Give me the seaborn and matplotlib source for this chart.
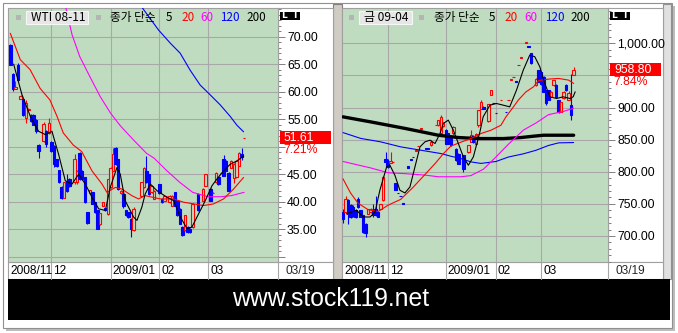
import numpy as np
import pandas as pd
import matplotlib
matplotlib.use("Agg")
import matplotlib.pyplot as plt
import seaborn as sns
from matplotlib.patches import Rectangle
from matplotlib.ticker import MultipleLocator, FixedLocator
from matplotlib.transforms import blended_transform_factory as blend

# ---------------- data ----------------
wti_title = "WTI 08-11"
gold_title = "금 09-04"
month_labels = ["2008/11", "12", "2009/01", "02", "03"]
last_date = "03/19"
wti_month_idx = [0, 16, 39, 58, 77]
gold_month_idx = [0, 18, 41, 61, 79]

wti_open = [68.5, 63.2, 60.4, 64.9, 58.7, 58.6, 55.2, 56.6, 55.8, 55.8,
            54.9, 50.3, None, 51.0, 52.8, 52.5, 50.8, 50.1, 47.7, 45.7,
            42.6, 40.7, 43.5, 44.1, None, 43.5, 43.5, 48.9, 45.6, 44.4,
            38.1, 41.5, 41.7, 39.9, 38.4, 35.9, 39.3, 38.8, 37.8, 42.6,
            45.6, 49.7, 47.7, 41.5, 41.4, 38.4, 38.1, 36.9, 34.8, None,
            None, 41.1, 42.6, 45.6, 45.0, 41.7, 40.5, None, 43.2, 40.5,
            40.2, 40.9, 39.9, 39.3, 41.7, 40.2, 38.7, 35.4, 34.8, 35.4,
            35.1, 35.4, None, 41.4, None, 40.2, 42.9, None, 42.3, 41.5,
            43.5, 44.4, 45.3, 47.7, 47.4, 45.3, 46.2, 44.3, 44.4, 46.5,
            48.6, 51.61]
wti_high = [68.6, 63.3, 61.9, 65.2, 59.3, 58.6, 58.5, 57.0, 56.0, 55.9,
            55.0, 50.4, None, 54.5, 53.0, 55.2, 51.0, 50.3, 47.8, 45.8,
            42.8, 43.6, 45.0, 44.3, None, 48.6, 45.8, 49.0, 45.7, 44.5,
            38.2, 42.2, 41.8, 40.0, 38.5, 38.0, 40.0, 38.9, 44.2, 46.3,
            49.8, 50.0, 47.8, 42.1, 41.5, 38.5, 38.2, 37.0, 39.0, None,
            None, 43.6, 46.3, 48.3, 45.1, 43.0, 42.1, None, 43.3, 40.6,
            41.2, 41.0, 41.2, 41.2, 41.8, 40.3, 38.8, 35.5, 37.6, 35.5,
            35.2, 39.7, None, 41.5, None, 42.4, 45.1, None, 42.4, 41.7,
            45.4, 44.5, 45.3, 48.5, 47.5, 45.4, 47.5, 47.0, 47.5, 49.0,
            49.8, 51.61]
wti_low = [64.9, 60.2, 60.4, 61.9, 58.7, 55.6, 54.3, 56.4, 54.5, 53.9,
           52.5, 48.0, None, 50.8, 49.9, 52.3, 49.0, 46.3, 46.3, 43.4,
           40.5, 40.6, 41.8, 42.6, None, 43.2, 43.3, 44.0, 44.0, 39.8,
           36.0, 41.4, 39.5, 38.0, 35.0, 35.8, 39.2, 38.3, 37.6, 42.5,
           45.5, 46.7, 42.2, 41.4, 38.8, 37.4, 37.1, 33.5, 34.6, None,
           None, 41.0, 42.5, 43.4, 41.3, 41.6, 40.4, None, 41.4, 39.8,
           40.1, 40.8, 39.8, 39.2, 39.2, 37.4, 35.9, 33.8, 34.7, 34.4,
           34.4, 35.3, None, 38.3, None, 40.1, 42.8, None, 40.1, 41.5,
           43.4, 43.1, 45.3, 44.6, 45.5, 41.9, 46.1, 43.4, 44.3, 46.4,
           47.6, 51.61]
wti_close = [64.9, 60.4, 60.8, 62.2, 59.2, 55.8, 58.0, 56.9, 54.6, 54.0,
             52.8, 49.2, None, 54.2, 50.4, 54.3, 49.2, 46.8, 46.5, 43.5,
             40.7, 43.5, 42.0, 42.8, None, 47.7, 45.6, 44.1, 44.1, 39.9,
             36.1, 42.1, 39.6, 38.1, 35.1, 37.9, 39.9, 38.4, 44.1, 46.2,
             48.6, 46.8, 42.3, 42.0, 39.3, 37.5, 37.2, 35.1, 38.7, None,
             None, 43.5, 46.2, 43.5, 41.4, 42.9, 42.0, None, 41.5, 39.9,
             41.1, 40.9, 41.1, 41.1, 39.3, 37.5, 36.0, 33.9, 37.5, 34.5,
             34.5, 39.6, None, 38.4, None, 42.3, 45.0, None, 40.2, 41.6,
             45.3, 43.2, 45.3, 44.7, 45.6, 42.0, 47.4, 46.8, 47.4, 48.9,
             48.1, 51.61]

wti_ma5_x = [1.3, 4.5, 7.8, 11.0, 13.6, 16.2, 18.8, 21.4, 24.0, 26.6,
             29.2, 31.8, 34.4, 37.0, 38.9, 41.5, 42.8, 44.7, 48.0, 49.3,
             51.2, 52.5, 54.5, 57.1, 61.0, 63.6, 66.2, 68.8, 70.7, 73.3,
             75.9, 78.5, 80.4, 83.0, 85.6, 88.2, 90.8]
wti_ma5 = [65.0, 59.5, 55.5, 52.8, 52.2, 52.8, 48.6, 43.8, 43.2, 45.0,
           43.2, 40.8, 38.7, 38.4, 42.6, 46.2, 45.0, 40.2, 37.2, 36.6,
           39.0, 41.4, 43.2, 42.0, 40.8, 40.2, 37.2, 35.1, 35.4, 37.8,
           40.2, 42.9, 44.1, 45.6, 46.8, 47.4, 48.3]
wti_ma20_x = [0, 3.9, 7.7, 11.6, 15.4, 18.2, 20.6, 24.5, 27.8, 31.8, 35.7, 37.6, 40.9,
              43.4, 47.3, 49.9, 52.5, 58.4, 63.6, 67.5, 71.4, 75.2, 79.1, 83.0, 86.9, 90.8]
wti_ma20 = [70.6, 65.8, 64.0, 60.6, 58.5, 55.5, 52.5, 50.3, 49.1, 45.6, 43.2, 41.7, 42.6,
            42.3, 41.1, 40.5, 41.1, 40.5, 40.5, 39.9, 39.6, 39.3, 39.6, 40.5, 42.3, 44.4]
wti_ma60_x = [21.5, 24, 27, 31, 35, 39, 43, 48, 53, 56, 61, 66, 71, 77, 82, 86, 91]
wti_ma60 = [75.5, 70.4, 66.4, 62.7, 59.1, 56.1, 53.7, 51.2, 48.8, 47.9, 45.6, 43.5,
            41.7, 40.9, 40.9, 41.1, 41.7]
wti_ma120_x = [50.0, 51.9, 57.7, 62.3, 66.1, 70.0, 73.9, 77.2, 81.7, 85.6, 88.2, 90.8]
wti_ma120 = [76.2, 74.9, 71.2, 68.8, 67.0, 63.9, 61.2, 59.7, 57.6, 55.5, 53.9, 52.7]

gold_open = [737.4, 737.0, 755.6, 748.0, 745.0, 740.0, 758.0, 740.0, 732.0, 719.0,
             735.0, 737.0, 740.0, 742.0, 737.0, 742.6, 755.6, 820.6, 816.0, 814.0,
             814.9, 782.6, 767.5, 762.9, 750.9, None, 808.6, 819.5, 823.7, 833.1,
             839.5, 866.9, None, 836.5, 836.5, 841.4, None, 872.1, 872.6, 859.6,
             872.0, 864.8, 859.6, 854.0, 859.6, 836.2, 828.4, None, 825.8, None,
             831.0, 846.5, 855.0, 844.0, 872.5, 898.5, 901.0, None, 879.3, 920.3,
             906.8, 892.2, None, 912.0, None, 893.8, 912.0, 943.2, 947.4, 940.6,
             965.6, 977.6, None, 1001.0, 995.2, 984.3, None, 935.0, 958.3, 955.0,
             948.0, 927.0, 927.0, 916.7, 935.0, 934.9, 911.5, 893.3, 914.1, 934.9,
             912.0, 903.7, 950.5]
gold_high = [742.0, 763.0, 757.0, 750.0, 748.0, 742.0, 760.0, 741.0, 733.0, 720.0,
             742.5, 743.0, 750.0, 763.0, 738.0, 750.0, 793.0, 830.8, 820.0, 831.0,
             815.4, 783.0, 767.5, 762.9, 750.9, None, 808.6, 819.5, 823.7, 833.6,
             840.0, 867.4, None, 836.5, 836.5, 849.0, None, 872.6, 881.0, 888.2,
             878.0, 866.0, 860.0, 856.0, 871.0, 837.0, 829.0, None, 826.0, None,
             842.0, 864.7, 858.0, 860.0, 896.0, 911.5, 902.0, None, 906.0, 928.0,
             906.8, 892.2, None, 912.5, None, 893.8, 912.5, 943.7, 947.9, 940.6,
             966.1, 978.1, None, 1001.5, 995.2, 985.0, None, 946.0, 959.0, 956.0,
             949.0, 928.0, 928.0, 925.0, 943.0, 936.0, 912.0, 909.0, 925.0, 936.0,
             925.0, 953.0, 963.5]
gold_low = [720.0, 735.0, 719.2, 728.0, 730.0, 728.0, 744.0, 729.0, 705.0, 698.0,
            734.0, 736.0, 730.0, 731.0, 729.0, 742.0, 755.0, 808.0, 806.0, 813.0,
            814.9, 772.0, 767.0, 762.4, 750.4, None, 806.0, 819.0, 823.2, 833.1,
            839.5, 866.9, None, 836.0, 836.0, 840.0, None, 872.1, 872.0, 859.0,
            870.0, 843.0, 843.0, 840.0, 858.0, 817.0, 812.0, None, 800.0, None,
            830.0, 846.0, 845.0, 843.0, 870.0, 898.0, 898.0, None, 878.0, 919.0,
            906.3, 891.7, None, 912.0, None, 893.3, 912.0, 943.2, 947.4, 940.1,
            965.6, 977.6, None, 1001.0, 994.7, 968.0, None, 934.0, 940.0, 935.0,
            924.0, 904.0, 911.0, 916.0, 934.0, 916.0, 892.0, 893.0, 913.0, 926.0,
            911.0, 880.3, 950.0]
gold_close = [727.0, 758.0, 734.8, 730.0, 732.6, 730.0, 745.0, 730.0, 706.0, 704.0,
              742.0, 742.0, 732.0, 732.0, 730.0, 749.4, 792.0, 815.4, 808.0, 816.0,
              815.4, 772.3, 767.0, 762.4, 750.4, None, 806.0, 819.0, 823.2, 833.6,
              840.0, 867.4, None, 836.0, 836.0, 846.6, None, 872.6, 880.4, 885.6,
              876.0, 844.0, 844.0, 841.0, 870.0, 818.0, 812.8, None, 805.0, None,
              841.3, 856.9, 847.0, 859.5, 895.9, 908.9, 898.5, None, 905.3, 927.1,
              906.3, 891.7, None, 912.5, None, 893.3, 912.5, 943.7, 947.9, 940.1,
              966.1, 978.1, None, 1001.5, 994.7, 968.7, None, 945.0, 940.1, 937.0,
              924.5, 906.3, 912.0, 924.5, 942.7, 916.7, 893.3, 908.9, 924.5, 927.1,
              922.0, 889.1, 958.8]

gold_ma5_x = [1.5, 5.4, 8.1, 10.8, 12.8, 14.7, 17.4, 18.7, 20.7, 22.7,
              24.7, 26.7, 28.7, 30.7, 32.7, 34.7, 36.7, 38.7, 40.0, 42.0,
              44.0, 46.0, 48.0, 50.0, 52.0, 54.6, 55.9, 58.6, 61.2, 63.9,
              66.5, 69.2, 71.9, 74.5, 76.5, 78.5, 80.5, 82.5, 85.2, 87.8,
              90.5, 91.8, 92.6]
gold_ma5 = [734.8, 740.0, 729.6, 729.6, 737.4, 771.2, 807.6, 810.2, 794.6, 771.2,
            767.0, 776.4, 807.6, 838.8, 846.6, 849.2, 844.0, 859.6, 875.2, 880.4,
            864.8, 844.0, 823.2, 810.2, 823.2, 862.0, 885.5, 903.7, 906.3, 903.7,
            901.1, 927.1, 958.3, 981.7, 979.1, 963.5, 937.5, 916.7, 914.1, 916.7,
            914.1, 916.7, 924.5]
gold_ma20_x = [0, 3, 6, 10, 14, 18, 23, 28, 33, 37, 40, 43, 47, 51, 55, 59, 63, 65,
               68, 70, 73, 76, 78, 82, 86, 90, 92]
gold_ma20 = [789, 767, 751, 741, 738, 748, 757, 776, 797, 814, 828, 840, 846, 851.7,
             859.5, 864.7, 872.5, 885.5, 901.1, 912, 924.5, 932.3, 942, 944.3, 945.3,
             942.7, 937.5]
gold_ma60_x = [0, 11, 18, 25, 33, 38, 47, 51, 56, 61, 66, 72, 77, 82, 88, 92]
gold_ma60 = [816, 806, 798.5, 797, 794.7, 792.2, 792.2, 794, 804, 823, 843, 865, 876,
             889, 894, 899]
gold_ma120_x = [0, 7, 15, 23, 31, 39, 43, 47, 51, 55, 61, 66, 72, 77, 82, 86, 92]
gold_ma120 = [861, 852, 846.6, 838.8, 833.6, 828.4, 824.2, 820.6, 815.4, 813, 816, 823,
              828, 833.5, 841, 845, 845.5]
gold_ma200_x = [0, 11, 25, 38, 46, 54, 64, 71, 76, 80, 84, 92]
gold_ma200 = [885.5, 877.7, 867.3, 856.9, 853.3, 851.7, 851.7, 853.3, 855.4, 856.9,
              856.9, 856.9]

wti_last, wti_pct = "51.61", "7.21%"
gold_last, gold_pct = "958.80", "7.84%"
wti_ticks = [30, 35, 40, 45, 50, 55, 60, 65, 70]
gold_ticks = [700, 750, 800, 850, 900, 950, 1000]
wti_hidden_labels = [30, 50]      # covered by the price flag / cut at the bottom
gold_hidden_labels = [950]

# ---------------- style ----------------
sns.set_theme(style="white")
plt.rcParams['font.family'] = ['Noto Sans CJK KR', 'DejaVu Sans']
NUMF = ['Liberation Sans', 'DejaVu Sans']
NUMSIZE = 8.2
GREEN = '#c0dcc0'
GRID = '#a8a8a8'
RED, BLUE, MAG = '#ff0000', '#0000ff', '#ff00ff'

W, H = 678, 333
fig = plt.figure(figsize=(W / 100, H / 100), dpi=100)
fig.patch.set_facecolor('white')


def rect_px(x0, y0, x1, y1):
    return [x0 / W, 1 - y1 / H, (x1 - x0) / W, (y1 - y0) / H]


bg = fig.add_axes([0, 0, 1, 1], zorder=0)
bg.set_xlim(0, W); bg.set_ylim(H, 0); bg.axis('off')
bg.add_patch(Rectangle((6, 6), 669, 325, facecolor='#bdbdbd', edgecolor='none'))
bg.add_patch(Rectangle((3, 3), 669, 325, facecolor='white', edgecolor='#909090', lw=0.8))
bg.add_patch(Rectangle((333, 4), 9, 275, facecolor='#d0ccc4', edgecolor='#808080', lw=0.8))
bg.add_patch(Rectangle((663, 4), 8, 275, facecolor='#e0e0e0', edgecolor='#909090', lw=0.8))
for x0, x1 in [(278, 333), (608, 663)]:
    bg.add_patch(Rectangle((x0, 8), x1 - x0, 254, facecolor='white', edgecolor='#a0a0a0', lw=0.8))
for x0, x1 in [(8, 333), (342, 663)]:
    bg.add_patch(Rectangle((x0, 262), x1 - x0, 17, facecolor='white', edgecolor='#a0a0a0', lw=0.8))
bg.add_patch(Rectangle((8, 279), 662, 41, facecolor='black', edgecolor='none'))
bg.text(331, 299.5, 'www.stock119.net', color='white', fontsize=17.8, ha='center', va='center',
        family=['Liberation Sans', 'DejaVu Sans'])

ov = fig.add_axes([0, 0, 1, 1], zorder=6)
ov.set_xlim(0, W); ov.set_ylim(H, 0); ov.axis('off'); ov.patch.set_alpha(0)


def draw_panel(px_rect, ylim, xlim, o, h, l, c, mas, ticks, fmt, hidden, minor, months,
               last_val, last_txt, pct_txt, title, hdr):
    ax = fig.add_axes(rect_px(*px_rect), zorder=2)
    ax.set_facecolor(GREEN)
    ax.set_xlim(*xlim); ax.set_ylim(*ylim)
    df = pd.DataFrame({'o': o, 'h': h, 'l': l, 'c': c}, dtype=float)
    df['i'] = np.arange(len(df))
    df = df.dropna()
    wdt = 0.95
    for _, r in df.iterrows():
        up = r.c >= r.o
        col = RED if up else BLUE
        ax.vlines(r.i, r.l, r.h, color=col, lw=0.8, zorder=3)
        ax.add_patch(Rectangle((r.i - wdt / 2, min(r.o, r.c)), wdt, abs(r.c - r.o),
                               facecolor=GREEN if up else BLUE, edgecolor=col,
                               lw=0.8, zorder=4))
    for xs, ys, col, lw in mas:
        sns.lineplot(x=xs, y=ys, ax=ax, color=col, linewidth=lw, estimator=None,
                     sort=False, legend=False, zorder=5)
    ax.set_xlabel(''); ax.set_ylabel('')
    for t in ticks:
        ax.axhline(t, color=GRID, lw=0.8, zorder=1)
    for m in months[1:]:
        ax.axvline(m, color=GRID, lw=0.8, zorder=1)
    ax.yaxis.tick_right()
    ax.yaxis.set_major_locator(FixedLocator(ticks))
    ax.set_yticklabels(["" if t in hidden else fmt(t) for t in ticks],
                       fontfamily=NUMF, fontsize=NUMSIZE + 0.6)
    ax.yaxis.set_minor_locator(MultipleLocator(minor))
    ax.tick_params(axis='y', which='major', right=True, length=5, width=0.7,
                   color='#808080', pad=1.5, labelcolor='black')
    ax.tick_params(axis='y', which='minor', right=True, length=2.4, width=0.7, color='#808080')
    ax.tick_params(axis='x', bottom=False, labelbottom=False)
    for s in ax.spines.values():
        s.set_color('#a0a0a0'); s.set_linewidth(0.8)

    # date row
    tr = blend(ax.transData, bg.transData)
    for k, (m, lab) in enumerate(zip(months, month_labels)):
        if k > 0:
            bg.plot([m, m], [262, 279], color=GRID, lw=0.8, transform=tr)
        bg.text(m + 0.8 if k > 0 else xlim[0] + 0.8, 270.5, lab, transform=tr,
                fontsize=NUMSIZE + 0.4, family=NUMF, va='center', ha='left', color='black')
    x0, y0, x1, y1 = px_rect
    bg.plot([x1, x1], [262, 279], color=GRID, lw=0.8)
    bg.text(x1 + 8, 270.5, last_date, fontsize=NUMSIZE + 0.4, family=NUMF, va='center', ha='left')

    # last price flag
    ypx = H - ax.transData.transform((0, last_val))[1]
    ov.add_patch(Rectangle((x1 + 2, ypx - 6.5), 51, 12.5, facecolor=RED, edgecolor='none'))
    ov.text(x1 + 6, ypx, last_txt, color='white', fontsize=NUMSIZE + 0.6, family=NUMF, va='center')
    ov.text(x1 + 5, ypx + 12, pct_txt, color=RED, fontsize=NUMSIZE + 0.6, family=NUMF, va='center')

    # header
    sq1, bx0, bx1, sq2, xs = hdr
    ov.add_patch(Rectangle((sq1, 14.5), 5, 5, facecolor='#b4b4b4', edgecolor='none'))
    ov.add_patch(Rectangle((bx0, 10.5), bx1 - bx0, 13.5, facecolor='#e6e6e6',
                           edgecolor='#f6f6f6', lw=0.8))
    ov.text(bx0 + 5, 17.3, title, fontsize=8.6, va='center', ha='left', color='black')
    ov.add_patch(Rectangle((sq2, 14.5), 5, 5, facecolor='#b4b4b4', edgecolor='none'))
    for (txt, col), xx in zip([("종가 단순", 'black'), ("5", 'black'), ("20", RED), ("60", MAG),
                               ("120", BLUE), ("200", 'black')], xs):
        ov.text(xx, 17.3, txt, fontsize=8.4, va='center', ha='left', color=col)
    for k, ch in enumerate("LI"):
        ov.add_patch(Rectangle((x1 + 1.5 + k * 10.8, 11.5), 10, 8, facecolor='black',
                               edgecolor='none'))
        ov.text(x1 + 6.5 + k * 10.8, 15.6, ch, color='white', fontsize=6.5, fontweight='bold',
                ha='center', va='center', family=['DejaVu Sans'])
    return ax


draw_panel((8, 8, 278, 262), (29.04, 75.2), (-0.9, 104.2),
           wti_open, wti_high, wti_low, wti_close,
           [(wti_ma120_x, wti_ma120, BLUE, 0.8), (wti_ma60_x, wti_ma60, MAG, 0.8),
            (wti_ma20_x, wti_ma20, RED, 0.8), (wti_ma5_x, wti_ma5, 'black', 0.8)],
           wti_ticks, lambda t: f"{t:.2f}", wti_hidden_labels, 1, wti_month_idx,
           float(wti_last), wti_last, wti_pct, wti_title,
           (16, 26, 88, 95.5, [110, 166, 181, 200.5, 220, 246.5]))

draw_panel((342, 8, 608, 262), (659.5, 1055), (-0.4, 105.7),
           gold_open, gold_high, gold_low, gold_close,
           [(gold_ma200_x, gold_ma200, 'black', 2.4), (gold_ma120_x, gold_ma120, BLUE, 0.8),
            (gold_ma60_x, gold_ma60, MAG, 0.8), (gold_ma20_x, gold_ma20, RED, 0.8),
            (gold_ma5_x, gold_ma5, 'black', 0.8)],
           gold_ticks, lambda t: f"{t:,.2f}", gold_hidden_labels, 10, gold_month_idx,
           float(gold_last), gold_last, gold_pct, gold_title,
           (348.5, 359, 412, 419, [434, 489, 504.5, 524, 545, 570.5]))

fig.savefig("out.png", dpi=100)
